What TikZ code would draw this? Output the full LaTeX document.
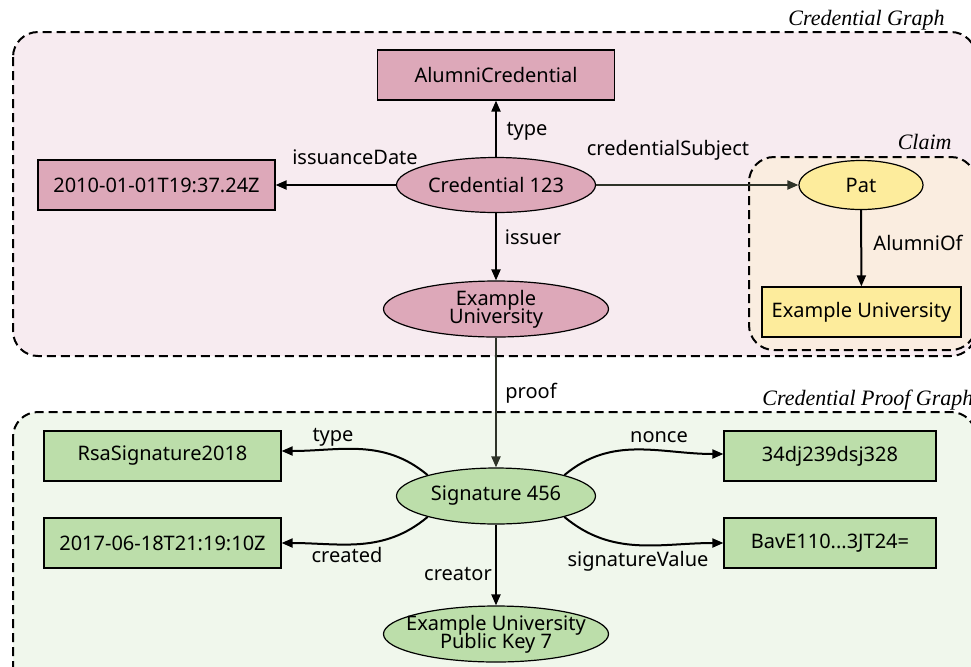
\documentclass[tikz,border=0pt]{standalone}
\usepackage{fontspec}
\setmainfont{Noto Sans}
\newfontfamily\clusterfont{Liberation Serif}
\usetikzlibrary{shapes.geometric,arrows.meta}

\definecolor{credfill}{HTML}{DDA8B9}
\definecolor{credbg}{HTML}{F7EBF0}
\definecolor{claimbg}{HTML}{FAEDE0}
\definecolor{claimfill}{HTML}{FDEC9C}
\definecolor{prooffill}{HTML}{BCDEAA}
\definecolor{proofbg}{HTML}{F0F7EC}
\definecolor{linkgray}{HTML}{2E3328}

\tikzset{
  cluster/.style={draw, line width=1pt, dash pattern=on 4.5pt off 2.5pt, rounded corners=12.5pt},
  clustername/.style={font=\clusterfont\itshape\fontsize{11}{13}\selectfont, inner sep=0pt},
  recnode/.style={rectangle, draw, line width=0.6pt, inner sep=0pt, minimum height=25pt},
  ellnode/.style={ellipse, draw, line width=0.6pt, inner sep=0pt, align=center},
  edge/.style={line width=1pt, -{Triangle[length=5.5pt,width=4.5pt]}},
  lbl/.style={inner sep=0pt}
}

\begin{document}
\begin{tikzpicture}[x=0.5pt, y=-0.5pt, font=\fontsize{10}{12}\selectfont]
  \useasboundingbox (0,0) rectangle (971,666);

  % Drawing cluster Credential Graph
  \draw [cluster, fill=credbg] (13,32) rectangle (976,356);
  \node [clustername, anchor=base east] (credname) at (945,25) {Credential Graph};

  % Drawing cluster Claim
  \draw [cluster, fill=claimbg] (749,157) rectangle (976,350);
  \node [clustername, anchor=base east] (claimname) at (952,149) {Claim};

  % Drawing cluster Credential Proof Graph
  \draw [cluster, fill=proofbg] (13,412) rectangle (976,690);
  \node [clustername, anchor=base west] (proofname) at (762,405) {Credential Proof Graph};

  % Nodes of the credential
  \node [recnode, fill=credfill, minimum width=118.5pt] (alumni) at (496,75) {AlumniCredential};
  \node [ellnode, fill=credfill, minimum width=99.5pt, minimum height=27.5pt] (cred) at (496,185) {Credential 123};
  \node [recnode, fill=credfill, minimum width=118.5pt] (issdate) at (156.5,185) {2010-01-01T19:37.24Z};
  \node [ellnode, fill=credfill, minimum width=112.5pt, minimum height=28pt] (issuer) at (496,309) {Example\\[-3pt]University};

  % Nodes of the claim
  \node [ellnode, fill=claimfill, minimum width=62pt, minimum height=24.5pt] (pat) at (861,185) {Pat};
  \node [recnode, fill=claimfill, minimum width=99.5pt] (exuni) at (861.5,312) {Example University};

  % Nodes of the proof
  \node [ellnode, fill=prooffill, minimum width=99.5pt, minimum height=28pt] (sig) at (496,496) {Signature 456};
  \node [recnode, fill=prooffill, minimum width=118.5pt] (sigtype) at (162.5,456) {RsaSignature2018};
  \node [recnode, fill=prooffill, minimum width=118.5pt] (created) at (162.5,543) {2017-06-18T21:19:10Z};
  \node [recnode, fill=prooffill, minimum width=106pt] (nonce) at (830,456) {34dj239dsj328};
  \node [recnode, fill=prooffill, minimum width=106pt] (sigval) at (830,543) {BavE110...3JT24=};
  \node [ellnode, fill=prooffill, minimum width=112.5pt, minimum height=28pt, inner xsep=-12pt, inner ysep=-2pt] (pubkey) at (496,634) {Example University\\[-3pt]Public Key 7};

  % Drawing edges of the credential
  \draw [edge] (cred) -- (alumni);
  \node [lbl] (ltype) at (527,131) {type};
  \draw [edge] (cred) -- (issdate);
  \node [lbl] (lissdate) at (355,157) {issuanceDate};
  \draw [edge] (cred) -- (issuer);
  \node [lbl] (lissuer) at (533,237) {issuer};
  \draw [edge, linkgray] (cred) -- (pat);
  \node [lbl] (lsubject) at (668,150) {credentialSubject};
  \draw [edge] (pat) -- (exuni);
  \node [lbl] (lalumni) at (918,243) {AlumniOf};
  \draw [edge, linkgray] (issuer) -- (sig);
  \node [lbl] (lproof) at (531,393) {proof};

  % Drawing edges of the proof
  \draw [edge] (sig.163) to[out=140, in=0] ([yshift=2.5pt]sigtype.east);
  \node [lbl] (lsigtype) at (333,437) {type};
  \draw [edge] (sig.-163) to[out=-140, in=0] (created.east);
  \node [lbl] (lcreated) at (347,555) {created};
  \draw [edge] (sig.17) to[out=40, in=180] ([yshift=1pt]nonce.west);
  \node [lbl] (lnonce) at (659,437) {nonce};
  \draw [edge] (sig.-17) to[out=-40, in=180] (sigval.west);
  \node [lbl] (lsigval) at (638,561) {signatureValue};
  \draw [edge] (sig) -- (pubkey);
  \node [lbl] (lcreator) at (458,574) {creator};
\end{tikzpicture}
\end{document}
